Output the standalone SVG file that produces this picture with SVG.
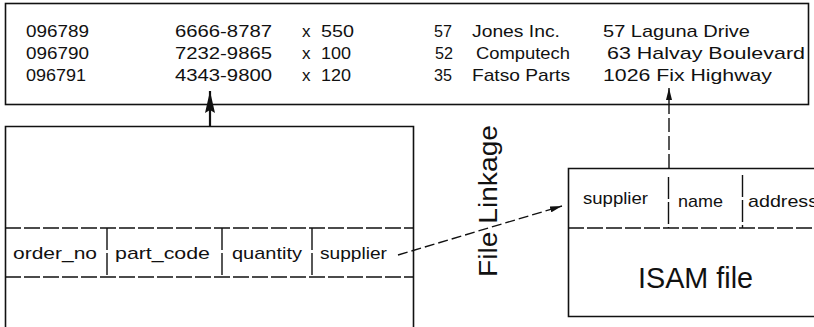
<svg xmlns="http://www.w3.org/2000/svg" width="814" height="327" viewBox="0 0 814 327">
<defs>
<style>
text{font-family:"Liberation Sans","DejaVu Sans",Arial,sans-serif;fill:#111}
.t{font-size:17px}
.box{fill:none;stroke:#111;stroke-width:1.6}
.dash{fill:none;stroke:#111;stroke-width:1.4;stroke-dasharray:16 3}
.div{fill:none;stroke:#111;stroke-width:1.4;stroke-dasharray:22 3}
.conn{fill:none;stroke:#111;stroke-width:1.4}
</style>
<marker id="ah" viewBox="0 0 12 6" refX="12" refY="3" markerWidth="12" markerHeight="6" markerUnits="userSpaceOnUse" orient="auto">
<path d="M0,0 L12,3 L0,6 Z" fill="#111"/>
</marker>
<marker id="ahBig" viewBox="0 0 22 10" refX="22" refY="5" markerWidth="22" markerHeight="10" markerUnits="userSpaceOnUse" orient="auto">
<path d="M0,0 L22,5 L0,10 L3,5 Z" fill="#111"/>
</marker>
</defs>
<rect width="814" height="327" fill="#fff"/>

<g id="records">
<rect class="box" x="5.5" y="3.5" width="803" height="101"/>
<text class="t" x="26" y="37" textLength="63" lengthAdjust="spacingAndGlyphs">096789</text>
<text class="t" x="175" y="37" textLength="97" lengthAdjust="spacingAndGlyphs">6666-8787</text>
<text class="t" x="302" y="37">x</text>
<text class="t" x="321" y="37" textLength="33" lengthAdjust="spacingAndGlyphs">550</text>
<text class="t" x="434" y="37" textLength="18" lengthAdjust="spacingAndGlyphs">57</text>
<text class="t" x="472" y="37" textLength="88" lengthAdjust="spacingAndGlyphs">Jones Inc.</text>
<text class="t" x="603" y="37" textLength="147" lengthAdjust="spacingAndGlyphs">57 Laguna Drive</text>

<text class="t" x="26" y="59" textLength="63" lengthAdjust="spacingAndGlyphs">096790</text>
<text class="t" x="175" y="59" textLength="97" lengthAdjust="spacingAndGlyphs">7232-9865</text>
<text class="t" x="302" y="59">x</text>
<text class="t" x="321" y="59" textLength="30" lengthAdjust="spacingAndGlyphs">100</text>
<text class="t" x="435" y="59" textLength="18" lengthAdjust="spacingAndGlyphs">52</text>
<text class="t" x="476" y="59" textLength="94" lengthAdjust="spacingAndGlyphs">Computech</text>
<text class="t" x="607" y="59" textLength="198" lengthAdjust="spacingAndGlyphs">63 Halvay Boulevard</text>

<text class="t" x="26" y="81" textLength="60" lengthAdjust="spacingAndGlyphs">096791</text>
<text class="t" x="175" y="81" textLength="97" lengthAdjust="spacingAndGlyphs">4343-9800</text>
<text class="t" x="302" y="81">x</text>
<text class="t" x="321" y="81" textLength="30" lengthAdjust="spacingAndGlyphs">120</text>
<text class="t" x="434" y="81" textLength="18" lengthAdjust="spacingAndGlyphs">35</text>
<text class="t" x="472" y="81" textLength="98" lengthAdjust="spacingAndGlyphs">Fatso Parts</text>
<text class="t" x="603" y="81" textLength="169" lengthAdjust="spacingAndGlyphs">1026 Fix Highway</text>
</g>

<g id="order-file">
<path class="box" d="M5.5,327 V126.5 H413.5 V327"/>
<line class="dash" x1="5" y1="228" x2="414" y2="228"/>
<line class="dash" x1="5" y1="277" x2="414" y2="277"/>
<line class="div" x1="107" y1="228" x2="107" y2="277"/>
<line class="div" x1="222" y1="228" x2="222" y2="277"/>
<line class="div" x1="312" y1="228" x2="312" y2="277"/>
<text class="t" x="13" y="259" textLength="84" lengthAdjust="spacingAndGlyphs">order_no</text>
<text class="t" x="115" y="259" textLength="95" lengthAdjust="spacingAndGlyphs">part_code</text>
<text class="t" x="232" y="259" textLength="70" lengthAdjust="spacingAndGlyphs">quantity</text>
<text class="t" x="320" y="259" textLength="67" lengthAdjust="spacingAndGlyphs">supplier</text>
</g>

<g id="isam-file">
<path class="box" d="M814,168.5 H568.5 V316.5 H814"/>
<line class="dash" x1="568" y1="228" x2="814" y2="228"/>
<line class="div" x1="668.5" y1="177" x2="668.5" y2="228"/>
<line class="div" x1="742.5" y1="175" x2="742.5" y2="228"/>
<text class="t" x="583" y="204" textLength="65" lengthAdjust="spacingAndGlyphs">supplier</text>
<text class="t" x="678" y="207" textLength="45" lengthAdjust="spacingAndGlyphs">name</text>
<text class="t" x="748" y="207" textLength="70" lengthAdjust="spacingAndGlyphs">address</text>
<text x="638" y="288" font-size="30" textLength="115" lengthAdjust="spacingAndGlyphs">ISAM file</text>
</g>

<g id="label">
<text x="0" y="0" font-size="26" transform="translate(497,277) rotate(-90)" textLength="152" lengthAdjust="spacingAndGlyphs">File Linkage</text>
</g>

<g id="connectors">
<line x1="210" y1="126" x2="210" y2="91" stroke="#111" stroke-width="2.2" marker-end="url(#ahBig)"/>
<line class="conn" x1="398" y1="255" x2="562" y2="206" stroke-dasharray="10 4" marker-end="url(#ah)"/>
<line class="conn" x1="669" y1="168" x2="669" y2="105" stroke-dasharray="14 4"/>
<line class="conn" x1="669" y1="105" x2="669" y2="88" marker-end="url(#ah)"/>
</g>
</svg>
